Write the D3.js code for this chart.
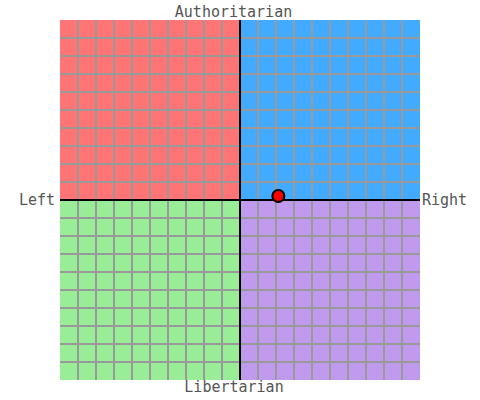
<!DOCTYPE html>
<html>
<head>
<meta charset="utf-8">
<script src="https://cdn.jsdelivr.net/npm/d3@7"></script>
<style>
  html, body { margin: 0; padding: 0; background: #fff; }
  svg { display: block; }
  text { font-family: "DejaVu Sans Mono", monospace; font-size: 15px; fill: #555; }
</style>
</head>
<body>
<svg id="chart" width="480" height="400"></svg>
<script>
// Quadrants: name, x range, y range, colour
var quadNames = ['authLeft', 'authRight', 'libLeft', 'libRight'];
var quadX = [[-10, 0], [0, 10], [-10, 0], [0, 10]];
var quadY = [[0, 10], [0, 10], [-10, 0], [-10, 0]];
var quadColors = ['#ff7575', '#42aaff', '#9aed97', '#c09aec'];

// Axis labels
var axisLabels = ['Authoritarian', 'Libertarian', 'Left', 'Right'];

// The single plotted result (economic, social)
var pointX = [2.13];
var pointY = [0.22];

var svg = d3.select('#chart');

var x = d3.scaleLinear().domain([-10, 10]).range([60, 420]);
var y = d3.scaleLinear().domain([-10, 10]).range([380, 20]);

// Coloured quadrants
svg.append('g').selectAll('rect')
  .data(quadNames)
  .enter().append('rect')
  .attr('x', (d, i) => x(quadX[i][0]))
  .attr('y', (d, i) => y(quadY[i][1]))
  .attr('width', (d, i) => x(quadX[i][1]) - x(quadX[i][0]))
  .attr('height', (d, i) => y(quadY[i][0]) - y(quadY[i][1]))
  .attr('fill', (d, i) => quadColors[i]);

// Grid, one line per unit (no outer border, centre drawn separately)
let inner = d => d !== 0 && Math.abs(d) !== 10;
let grid = svg.append('g')
  .attr('stroke', '#999')
  .attr('stroke-width', 1.2)
  .attr('shape-rendering', 'crispEdges');

grid.selectAll('.gx')
  .data(x.ticks(20).filter(inner))
  .enter().append('line')
  .attr('x1', d => x(d)).attr('x2', d => x(d))
  .attr('y1', y(10)).attr('y2', y(-10));

grid.selectAll('.gy')
  .data(y.ticks(20).filter(inner))
  .enter().append('line')
  .attr('y1', d => y(d)).attr('y2', d => y(d))
  .attr('x1', x(-10)).attr('x2', x(10));

// Centre axes
let axes = svg.append('g')
  .attr('stroke', '#000')
  .attr('stroke-width', 1.5)
  .attr('shape-rendering', 'crispEdges');
axes.append('line')
  .attr('x1', x(0)).attr('x2', x(0))
  .attr('y1', y(10)).attr('y2', y(-10));
axes.append('line')
  .attr('x1', x(-10)).attr('x2', x(10))
  .attr('y1', y(0)).attr('y2', y(0));

// Labels
svg.append('text')
  .attr('x', x(0) - 6.5).attr('y', y(10) - 3)
  .attr('text-anchor', 'middle')
  .text(axisLabels[0]);
svg.append('text')
  .attr('x', x(0) - 6).attr('y', y(-10) + 12)
  .attr('text-anchor', 'middle')
  .text(axisLabels[1]);
svg.append('text')
  .attr('x', x(-10) - 5).attr('y', y(0) + 5)
  .attr('text-anchor', 'end')
  .text(axisLabels[2]);
svg.append('text')
  .attr('x', x(10) + 2).attr('y', y(0) + 5)
  .attr('text-anchor', 'start')
  .text(axisLabels[3]);

// The point
svg.append('g').selectAll('circle')
  .data(pointX)
  .enter().append('circle')
  .attr('cx', (d) => x(d))
  .attr('cy', (d, i) => y(pointY[i]))
  .attr('r', 6)
  .attr('fill', '#ff0000')
  .attr('stroke', '#000')
  .attr('stroke-width', 2);
</script>
</body>
</html>
